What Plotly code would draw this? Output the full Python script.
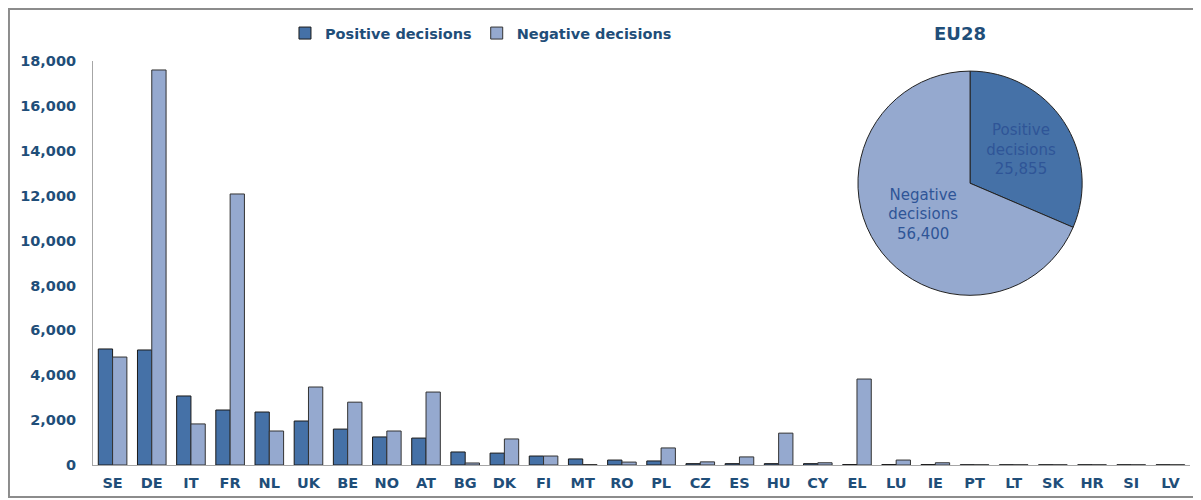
"""
Asylum decisions by country (bar) with EU28 totals (pie).
"""

import plotly.graph_objects as go

countries = ["SE", "DE", "IT", "FR", "NL", "UK", "BE", "NO", "AT", "BG",
             "DK", "FI", "MT", "RO", "PL", "CZ", "ES", "HU", "CY", "EL",
             "LU", "IE", "PT", "LT", "SK", "HR", "SI", "LV"]
positive = [5170, 5125, 3075, 2450, 2360, 1960, 1600, 1250, 1200, 580,
            530, 400, 270, 220, 180, 60, 60, 60, 60, 20,
            20, 20, 10, 10, 10, 10, 10, 10]
negative = [4810, 17600, 1830, 12075, 1515, 3475, 2800, 1515, 3250, 90,
            1160, 400, 20, 130, 760, 140, 360, 1420, 100, 3830,
            220, 100, 10, 10, 10, 10, 10, 10]

pie_labels = ["Positive<br>decisions", "Negative<br>decisions"]
pie_values = [25855, 56400]

POS = "#4571A7"
NEG = "#95A9CF"
TXT = "#1F4E79"
FONT = "DejaVu Sans"

fig = go.Figure()

fig.add_trace(go.Bar(
    x=countries, y=positive, name="Positive decisions",
    marker=dict(color=POS, line=dict(color="#1a1a1a", width=1)),
))
fig.add_trace(go.Bar(
    x=countries, y=negative, name="Negative decisions",
    marker=dict(color=NEG, line=dict(color="#333333", width=1)),
))

fig.add_trace(go.Pie(
    labels=pie_labels, values=pie_values,
    marker=dict(colors=[POS, NEG], line=dict(color="#222222", width=1)),
    sort=False, direction="clockwise", rotation=0,
    texttemplate="%{label}<br>%{value:,}",
    textposition="inside", insidetextorientation="horizontal",
    textfont=dict(family=FONT, size=15, color="#2F5597"),
    domain=dict(x=[0.693, 0.906], y=[0.42, 0.975]),
    showlegend=False, hoverinfo="label+value",
))

# page body adds an 8px offset, so the figure is 8px smaller
fig.update_layout(
    width=1193, height=492,
    margin=dict(l=85, r=11, t=53, b=35, autoexpand=False),
    paper_bgcolor="white", plot_bgcolor="white",
    font=dict(family=FONT, color=TXT, size=13),
    barmode="group", bargap=0.27, bargroupgap=0,
    legend=dict(
        orientation="h", x=0.175, y=1.069, xanchor="left", yanchor="middle",
        font=dict(family=FONT, size=14.5, color=TXT, weight="bold"),
        bgcolor="rgba(0,0,0,0)", itemwidth=30, traceorder="normal",
    ),
    xaxis=dict(
        showline=True, linecolor="#a6a6a6", linewidth=1,
        showgrid=False, ticks="", ticklabelstandoff=5,
        tickfont=dict(family=FONT, size=14.5, color=TXT, weight="bold"),
    ),
    yaxis=dict(
        range=[0, 18000], tickvals=list(range(0, 18001, 2000)),
        tickformat=",", showline=True, linecolor="#a6a6a6", linewidth=1,
        showgrid=False, zeroline=False, ticks="", ticklabelstandoff=13,
        tickfont=dict(family=FONT, size=14.5, color=TXT, weight="bold"),
    ),
    annotations=[dict(
        text="EU28", x=0.79, y=1.069, xref="paper", yref="paper",
        showarrow=False, xanchor="center", yanchor="middle",
        font=dict(family=FONT, size=18, color=TXT, weight="bold"),
    )],
    shapes=[dict(
        type="rect", xref="paper", yref="paper",
        x0=-0.0766, x1=1.0064, y0=-0.079, y1=1.1287,
        line=dict(color="#8c8c8c", width=2), fillcolor="rgba(0,0,0,0)",
    )],
)

fig.write_html("out.html")
